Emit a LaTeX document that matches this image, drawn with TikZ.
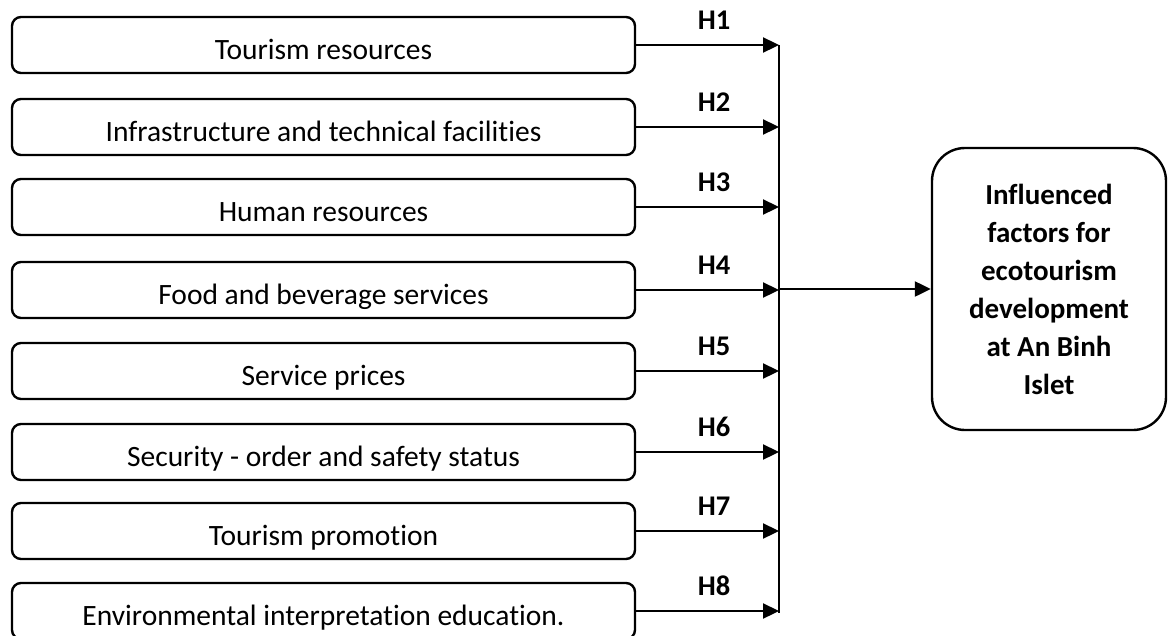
\documentclass[tikz,border=0pt]{standalone}
\usepackage{fontspec}
\setmainfont{Carlito}[Ligatures=NoCommon]
\usepackage{tikz}
\usetikzlibrary{arrows.meta,positioning}
\definecolor{ink}{HTML}{000000}

\begin{document}
\begin{tikzpicture}[x=1pt,y=-1pt,>={Triangle[length=16pt,width=15pt]},
    factor/.style={draw=ink,line width=2.4pt,rounded corners=9pt,minimum width=623pt,minimum height=56pt,inner sep=0pt,text height=30pt,text depth=2pt,font=\fontsize{29.5}{36}\selectfont},
    hlabel/.style={anchor=base,inner sep=0pt,font=\fontsize{28.5}{34}\selectfont\bfseries},
    goalbox/.style={draw=ink,line width=2.4pt,rounded corners=33pt,minimum width=234pt,minimum height=282pt,align=center,font=\fontsize{29}{38}\selectfont\bfseries},
    link/.style={->,draw=ink,line width=2.3pt}]
        \useasboundingbox (0,0) rectangle (1168,635);
        \clip (0,0) rectangle (1168,635);
        \coordinate (bustop) at (779,45);
        \coordinate (busbot) at (779,613);
        \foreach \y/\t/\k in {45/Tourism resources/1,127/Infrastructure and technical facilities/2,207/Human resources/3,290/Food and beverage services/4,371/Service prices/5,452/Security - order and safety status/6,531/Tourism promotion/7,611/Environmental interpretation education./8}{
          \node[factor] (f\k) at (323.5,\y) {\t};
          \draw[link] (f\k.east) -- (f\k.east -| bustop);
          \node[hlabel] (h\k) at (714,\y-16) {H\k};
        }
        \draw[draw=ink,line width=2.4pt] (bustop) -- (busbot);
        \node[goalbox] (goal) at (1049,289) {Influenced\\factors for\\ecotourism\\development\\at An Binh\\Islet};
        \draw[link] (goal.west -| bustop) -- (goal.west);
      \end{tikzpicture}
\end{document}
